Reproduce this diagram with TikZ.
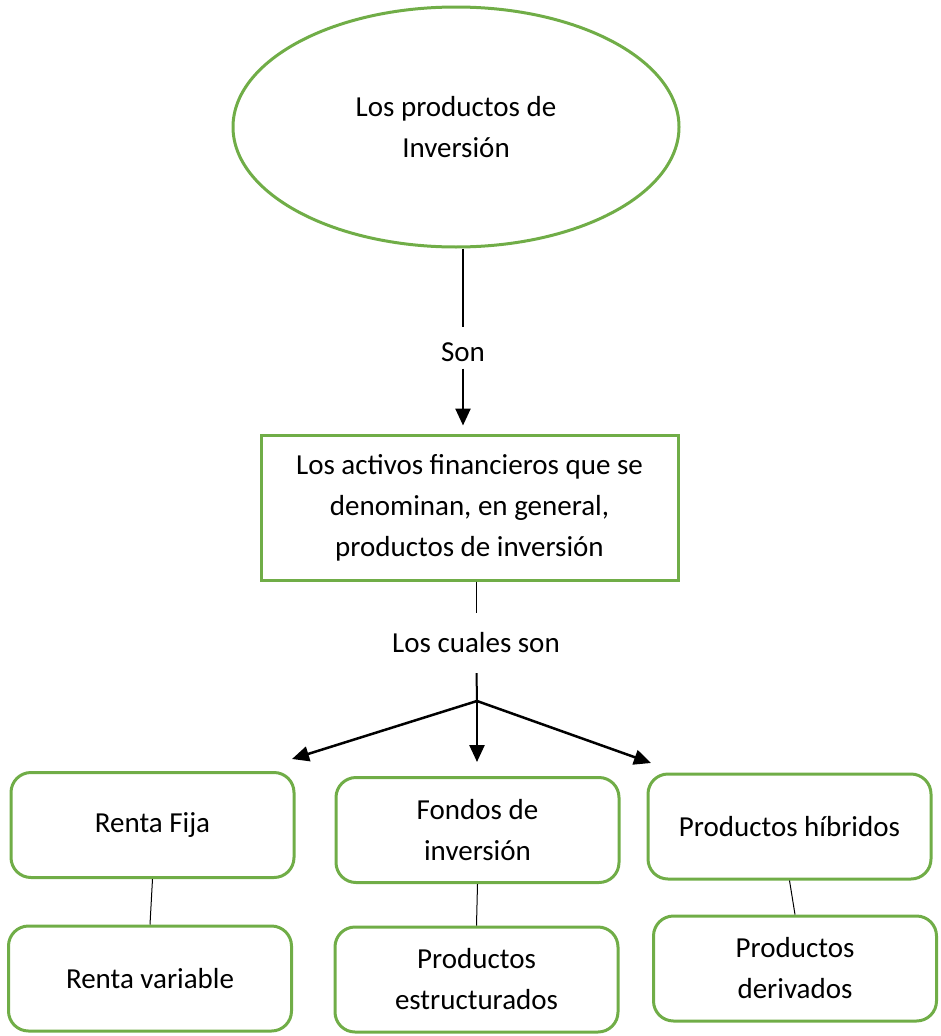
\documentclass[tikz,border=0pt]{standalone}
\usepackage{fontspec}
\setmainfont{Carlito}
\usetikzlibrary{shapes.geometric,arrows.meta}
\definecolor{gruen}{HTML}{70AD47}
\begin{document}
\begin{tikzpicture}[x=1pt,y=-1pt,
		font=\fontsize{29}{41}\selectfont,
		oval/.style={ellipse,draw=gruen,line width=3pt,inner sep=0pt,minimum width=446pt,minimum height=240pt,align=center},
		kasten/.style={rectangle,draw=gruen,line width=3pt,inner sep=0pt,minimum width=417pt,minimum height=145pt,align=center},
		rkasten/.style={rectangle,rounded corners=20pt,draw=gruen,line width=3pt,inner sep=0pt,minimum width=283pt,minimum height=105pt,align=center},
		wort/.style={inner sep=0pt,outer sep=15pt},
		pfeil/.style={line width=2.5pt,-{Triangle[length=17pt,width=15pt]}},
		linie/.style={line width=1pt}]
		\useasboundingbox (0,0) rectangle (940,1036);
		% Ellipse
		\node[oval] (prod) at (456,127) {Los productos de\\Inversión};
		\node[wort] (son) at (463,352) {Son};
		% Kasten
		\node[kasten] (act) at (469.5,507.5) {Los activos financieros que se\\denominan, en general,\\productos de inversión};
		\node[wort,outer sep=20pt] (cual) at (476,643) {Los cuales son};
		\coordinate (knoten) at (477,701);
		% Obere Reihe
		\node[rkasten] (rf) at (152.5,825) {Renta Fija};
		\node[rkasten] (fi) at (477.5,830) {Fondos de\\inversión};
		\node[rkasten] (ph) at (789.5,826.5) {Productos híbridos};
		% Untere Reihe
		\node[rkasten] (rv) at (150,978.5) {Renta variable};
		\node[rkasten] (pe) at (476.5,979.5) {Productos\\estructurados};
		\node[rkasten] (pd) at (795,968.5) {Productos\\derivados};
		% Pfeilspitzen
		\coordinate (links) at (292,759);
		\coordinate (mitte) at (477,762);
		\coordinate (rechts) at (651,763);
		% Verbindungen
		\draw[line width=2.5pt] (prod.south -| son) -- (son);
		\draw[pfeil,shorten <=-8pt,shorten >=8pt] (son) -- (act.north -| son);
		\draw[linie] (act.south -| cual) -- (cual);
		\draw[line width=2pt] (cual) -- (knoten);
		\draw[pfeil] (knoten) -- (links);
		\draw[pfeil] (knoten) -- (mitte);
		\draw[pfeil] (knoten) -- (rechts);
		\draw[linie] (rf.south) -- (rv.north);
		\draw[linie] (fi.south) -- (pe.north);
		\draw[linie] (ph.south) -- (pd.north);
	\end{tikzpicture}
\end{document}
